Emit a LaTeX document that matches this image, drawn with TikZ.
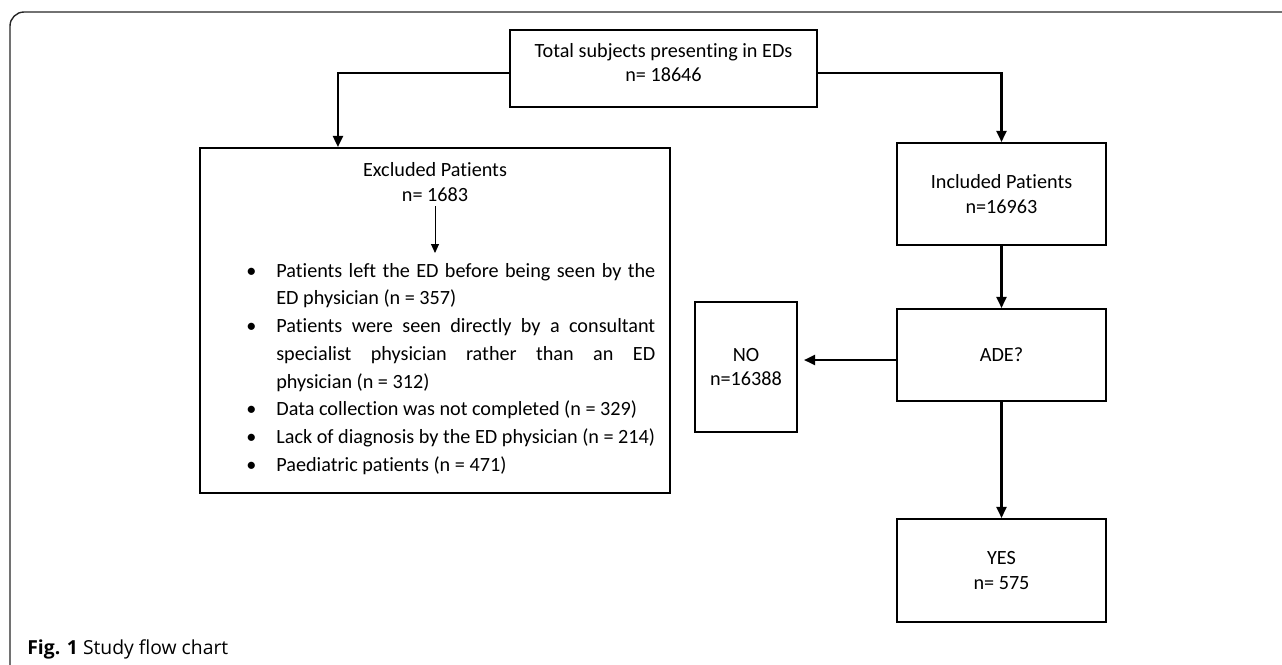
\documentclass[tikz,border=0pt]{standalone}
\usepackage{fontspec}
\setmainfont{Carlito}[Ligatures=CommonOff]
\newfontfamily\captionfont{Open Sans}
\usepackage{enumitem}
\usetikzlibrary{arrows.meta}

\begin{document}
\begin{tikzpicture}[
    x=0.02cm, y=-0.02cm,
    box/.style={draw, line width=1.2pt, align=center, inner sep=0pt, font=\fontsize{11.5}{13.9}\selectfont},
    arrow/.style={-{Triangle[length=2.2mm, width=2mm]}, line width=1.2pt},
    thinarrow/.style={-{Triangle[length=1.8mm, width=1.6mm]}, line width=0.5pt}
]
    \useasboundingbox (0,0) rectangle (1282,664);

    % outer frame
    \draw[line width=0.8pt, black!85, rounded corners=8pt] (10,700) -- (10,12) -- (1300,12);

    % === Top box ===
    \node[box, minimum width=6.14cm, minimum height=1.54cm, text depth=0.25cm] (total) at (663.5,68.5) {Total subjects presenting in EDs\\n= 18646};

    % === Excluded patients ===
    \node[box, minimum width=9.4cm, minimum height=6.9cm] (excl) at (435,320.5) {};
    \node[align=center, inner sep=0pt, font=\fontsize{11.5}{13.9}\selectfont] (excltitle) at (435,182) {Excluded Patients\\n= 1683};
    \node[anchor=north west, inner sep=0pt, text width=8.1cm, align=justify, font=\fontsize{11.5}{15.8}\selectfont] (excllist) at (250,249) {%
        \begin{itemize}[leftmargin=0.52cm, labelsep=0.4cm, nosep]
            \item Patients left the ED before being seen by the\linebreak ED physician (n = 357)
            \item Patients were seen directly by a consultant\linebreak specialist physician rather than an ED\linebreak physician (n = 312)
            \item Data collection was not completed (n = 329)
            \item Lack of diagnosis by the ED physician (n = 214)
            \item Paediatric patients (n = 471)
        \end{itemize}};

    % === Included branch ===
    \node[box, minimum width=4.18cm, minimum height=2.04cm] (incl) at (1001.5,194) {Included Patients\\n=16963};
    \node[box, minimum width=4.18cm, minimum height=1.84cm] (ade) at (1001.5,355) {ADE?};
    \node[box, minimum width=2.04cm, minimum height=2.6cm] (no) at (746,367) {NO\\n=16388};
    \node[box, minimum width=4.18cm, minimum height=2.06cm] (yes) at (1001.5,570.5) {YES\\n= 575};

    % connectors
    \coordinate (exclin) at ([xshift=2.78cm]excl.north west);
    \coordinate (listtop) at ([yshift=-0.08cm]excltitle.south |- excllist.north);
    \draw[arrow] ([yshift=-0.09cm]total.west) -| (exclin);
    \draw[arrow] ([yshift=-0.09cm]total.east) -| (incl.north);
    \draw[thinarrow, shorten <=0.09cm] (excltitle.south) -- (listtop);
    \draw[arrow] (incl) -- (ade);
    \draw[arrow, shorten >=0.12cm] ([yshift=-0.1cm]ade.west) -- ([yshift=-0.1cm]ade.west -| no.east);
    \draw[arrow] (ade) -- (yes);

    % caption
    \node[anchor=west, inner sep=0pt, font=\captionfont\fontsize{11}{13}\selectfont] (caption) at (27,649) {\textbf{Fig. 1} Study flow chart};

\end{tikzpicture}
\end{document}
